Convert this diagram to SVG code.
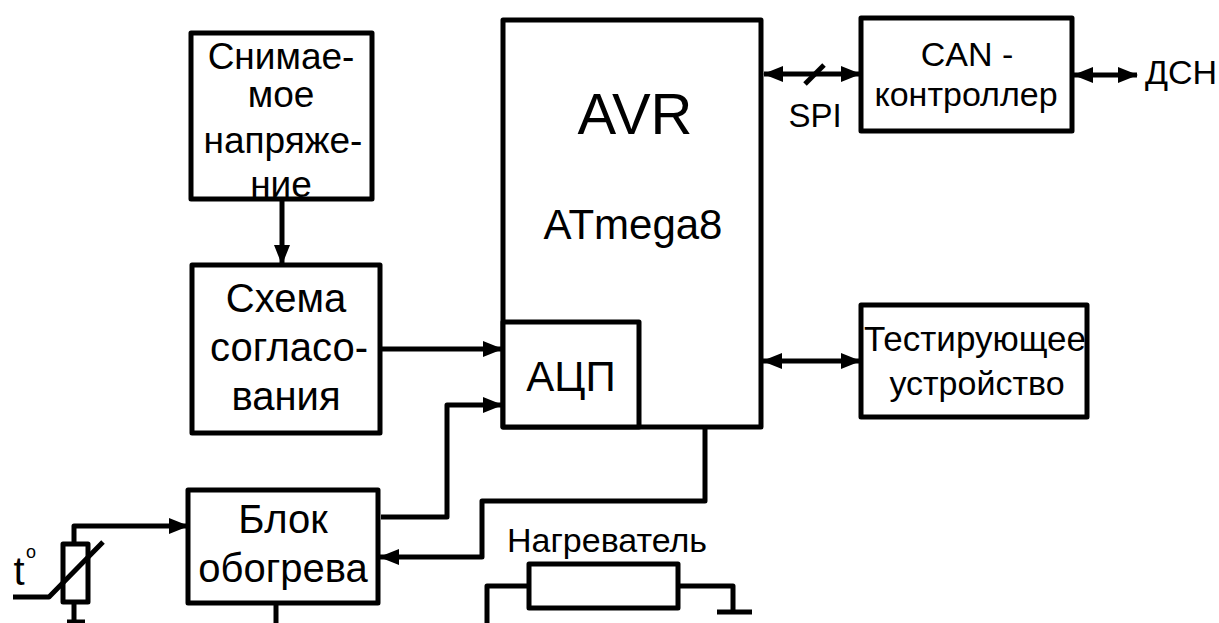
<svg xmlns="http://www.w3.org/2000/svg" width="1219" height="623" viewBox="0 0 1219 623">
<style>
text{font-family:"Liberation Sans",Arial,sans-serif;fill:#000;text-anchor:middle}
.b{fill:#fff;stroke:#000;stroke-width:5;stroke-linejoin:round}
.l{fill:none;stroke:#000;stroke-width:5;stroke-linejoin:round}
.n{font-size:37px}
.t{font-size:40px}
.s{font-size:34px}
</style>
<defs><marker id="a" markerUnits="userSpaceOnUse" markerWidth="20" markerHeight="16" refX="19" refY="8" orient="auto-start-reverse"><path d="M0 0L20 8L0 16z"/></marker></defs>
<rect width="1219" height="623" fill="#fff"/>
<g id="connectors">
<path class="l" d="M282 200V264" marker-end="url(#a)"/>
<path class="l" d="M381 349H502" marker-end="url(#a)"/>
<path class="l" d="M381 517H447V405H502" marker-end="url(#a)"/>
<path class="l" d="M705 428V501H482V557H380" marker-end="url(#a)"/>
<path class="l" d="M764 74H860" marker-start="url(#a)" marker-end="url(#a)"/>
<path class="l" d="M805 84L824 65"/>
<path class="l" d="M1074 75H1137" marker-start="url(#a)" marker-end="url(#a)"/>
<path class="l" d="M763 361H860" marker-start="url(#a)" marker-end="url(#a)"/>
<path class="l" d="M74 543V526H188" marker-end="url(#a)"/>
<path class="l" d="M74 603V622M67 622H85"/>
<path class="l" d="M13 597H49L103 542"/>
<path class="l" d="M276 604V623"/>
<path class="l" d="M487 623V586H529M678 586H733V612M717 612H752"/>
</g>
<g id="n1"><rect class="b" x="191" y="33" width="181" height="166"/><text class="n" x="281" y="69">Снимае-</text><text class="n" x="281" y="107">мое</text><text class="n" x="283" y="153">напряже-</text><text class="n" x="281" y="197">ние</text></g>
<g id="n2"><rect class="b" x="192" y="265" width="188" height="168"/><text class="t" x="286" y="312">Схема</text><text class="t" x="289" y="361">согласо-</text><text class="t" x="286" y="410">вания</text></g>
<g id="n3"><rect class="b" x="503" y="20" width="258" height="407"/><text x="635" y="134" font-size="58">AVR</text><text x="633" y="239" font-size="42">ATmega8</text></g>
<g id="n4"><rect class="b" x="503" y="322" width="136" height="105"/><text x="571" y="391" font-size="42">АЦП</text></g>
<g id="n5"><rect class="b" x="861" y="18" width="211" height="113"/><text class="s" x="967" y="66">CAN -</text><text class="s" x="966" y="106">контроллер</text></g>
<g id="n6"><rect class="b" x="861" y="305" width="226" height="112"/><text x="975" y="351" font-size="35">Тестирующее</text><text class="s" x="977" y="395">устройство</text></g>
<g id="n7"><rect class="b" x="188" y="490" width="190" height="113"/><text class="t" x="283" y="533">Блок</text><text class="t" x="283" y="582">обогрева</text></g>
<g id="n8"><rect class="l" x="63" y="544" width="25" height="58"/></g>
<g id="n9"><rect class="l" x="529" y="564" width="149" height="44"/><text class="s" x="607" y="552">Нагреватель</text></g>
<text x="1181" y="84" class="s">ДСН</text>
<text x="815" y="127" font-size="33">SPI</text>
<text x="19" y="585" font-size="40">t</text>
<text x="31" y="558" font-size="18">o</text>
</svg>
